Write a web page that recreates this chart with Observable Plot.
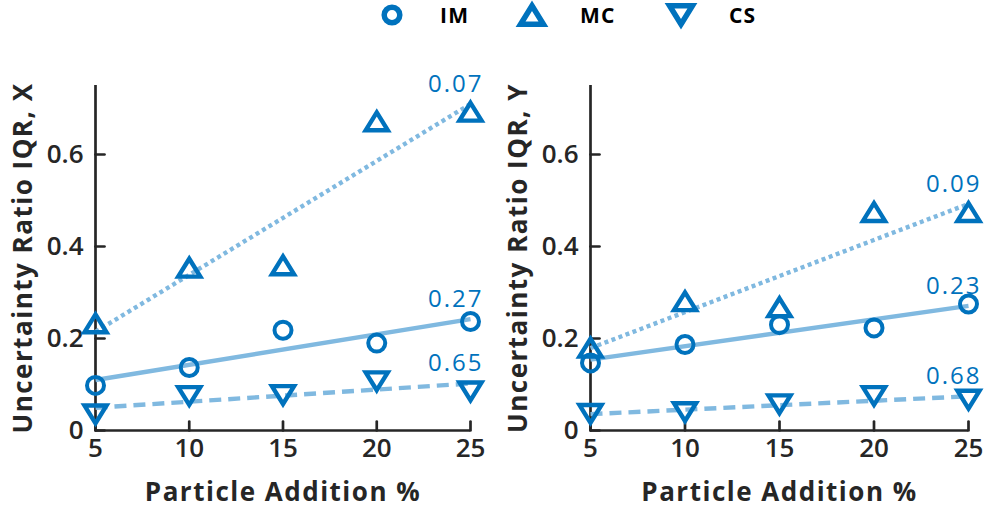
<!DOCTYPE html>
<html><head><meta charset="utf-8">
<script src="https://cdn.jsdelivr.net/npm/d3@7"></script>
<script src="https://cdn.jsdelivr.net/npm/@observablehq/plot@0.6"></script>
<style>
html,body{margin:0;padding:0;background:#fff}
body{width:987px;height:509px;overflow:hidden;font-family:"Open Sans",sans-serif}
#legend{position:relative;height:36px}
.item{position:absolute;top:2px;height:26px;display:flex;align-items:center;font-weight:700;font-size:21px;letter-spacing:1.2px;color:#000}
.item svg{margin-right:36px}
#charts{display:flex}
g[aria-label$="axis label"] text{font-weight:700;font-size:26px;letter-spacing:1.5px}
g[aria-label$="axis tick label"] text{font-weight:600;font-size:26px}
g[aria-label="text"] text{letter-spacing:2px;font-size:24px}
</style></head><body>
<div id="legend"></div><div id="charts"></div>
<script>
// ---- data ----
const xValues = [5, 10, 15, 20, 25];
const xTicks = [5, 10, 15, 20, 25];
const yTicks = [0, 0.2, 0.4, 0.6];
const xDomain = [5, 25];
const yDomain = [0, 0.75];
const seriesNames = ["IM", "MC", "CS"];

// Left panel (X)
const leftIM = [0.098, 0.137, 0.218, 0.190, 0.237];
const leftMC = [0.233, 0.354, 0.359, 0.672, 0.693];
const leftCS = [0.035, 0.075, 0.077, 0.107, 0.085];
const leftLabels = ["0.27", "0.07", "0.65"];

// Right panel (Y)
const rightIM = [0.147, 0.187, 0.230, 0.223, 0.275];
const rightMC = [0.180, 0.281, 0.268, 0.475, 0.475];
const rightCS = [0.036, 0.040, 0.057, 0.075, 0.067];
const rightLabels = ["0.23", "0.09", "0.68"];

const xLabel = "Particle Addition %";
const yLabels = ["Uncertainty Ratio IQR, X", "Uncertainty Ratio IQR, Y"];

// ---- styling ----
const markerColor = "#0072BD";
const lineColor = "#80B9E0";
const axisColor = "#262626";

const upTri = {draw(ctx, size) {const r = Math.sqrt(size / Math.PI); const w = 1.3 * r, h = 1.05 * r;
  ctx.moveTo(0, -h); ctx.lineTo(w, h); ctx.lineTo(-w, h); ctx.closePath();}};
const downTri = {draw(ctx, size) {const r = Math.sqrt(size / Math.PI); const w = 1.3 * r, h = 1.05 * r;
  ctx.moveTo(0, h); ctx.lineTo(w, -h); ctx.lineTo(-w, -h); ctx.closePath();}};
const symbols = ["circle", upTri, downTri];
const dashes = [null, "4,3.5", "12,7"];
const tickShape = {draw(ctx, l) {ctx.moveTo(0, 0); ctx.lineTo(0, -l);}};

function fit(xs, ys) {
  const mx = d3.mean(xs), my = d3.mean(ys);
  const b = d3.sum(xs, (x, i) => (x - mx) * (ys[i] - my)) / d3.sum(xs, x => (x - mx) ** 2);
  return x => my + b * (x - mx);
}

function panel(seriesValues, labels, yLabel, width, marginLeft, marginRight) {
  const marks = [
    Plot.ruleX([xDomain[0]], {stroke: axisColor, strokeWidth: 2.7}),
    Plot.ruleY([yDomain[0]], {stroke: axisColor, strokeWidth: 2.7}),
    Plot.vector(yTicks, {x: xDomain[0], y: d => d, length: 9, rotate: 90, anchor: "start", shape: tickShape, stroke: axisColor, strokeWidth: 2.7}),
    Plot.vector(xTicks, {x: d => d, y: yDomain[0], length: 9, rotate: 0, anchor: "start", shape: tickShape, stroke: axisColor, strokeWidth: 2.7}),
    Plot.axisX({ticks: xTicks, tickSize: 0, tickPadding: 8, label: xLabel, labelAnchor: "center", labelOffset: 70, labelArrow: "none"}),
    Plot.axisY({ticks: yTicks, tickSize: 0, tickPadding: 12, tickFormat: d3.format("~g"), label: yLabel, labelAnchor: "center", labelOffset: 82, labelArrow: "none"})
  ];
  const labelRows = [];
  seriesValues.forEach((vals, i) => {
    const f = fit(xValues, vals);
    const ends = d3.extent(xValues).map(x => ({x, y: f(x)}));
    marks.push(Plot.line(ends, {x: "x", y: "y", stroke: lineColor, strokeWidth: 4.4, strokeDasharray: dashes[i], strokeLinecap: "butt"}));
    labelRows.push({x: ends[1].x, y: ends[1].y, label: labels[i]});
  });
  seriesValues.forEach((vals, i) => {
    const rows = xValues.map((x, j) => ({x, y: vals[j]}));
    marks.push(Plot.dot(rows, {x: "x", y: "y", r: 8.5, symbol: symbols[i], stroke: markerColor, strokeWidth: i === 0 ? 4 : 4.4, fill: "none"}));
  });
  marks.push(Plot.text(labelRows, {x: "x", y: "y", text: "label", dx: 13, dy: -20, textAnchor: "end", fill: markerColor, fontSize: 24, fontWeight: 500}));
  return Plot.plot({
    width, height: 473, marginTop: 49, marginBottom: 79, marginLeft, marginRight,
    style: {fontFamily: "Open Sans", fontSize: "26px", color: axisColor, background: "white", overflow: "visible"},
    x: {domain: xDomain},
    y: {domain: yDomain},
    marks
  });
}

const charts = document.getElementById("charts");
charts.append(panel([leftIM, leftMC, leftCS], leftLabels, yLabels[0], 493, 95, 23));
charts.append(panel([rightIM, rightMC, rightCS], rightLabels, yLabels[1], 494, 97, 19));

// legend
const legend = document.getElementById("legend");
const legendLeft = [380, 520, 669];
seriesNames.forEach((name, i) => {
  const item = document.createElement("div");
  item.className = "item";
  item.style.left = legendLeft[i] + "px";
  const sym = i === 0 ? d3.symbolCircle : symbols[i];
  const r = i === 0 ? 7.8 : 8.8;
  const p = d3.symbol(sym, Math.PI * r * r)();
  item.innerHTML = `<svg width="24" height="26" viewBox="-12 -13 24 26" style="overflow:visible"><path d="${p}" fill="none" stroke="${markerColor}" stroke-width="5.5"/></svg><span>${name}</span>`;
  legend.append(item);
});
</script>
</body></html>
